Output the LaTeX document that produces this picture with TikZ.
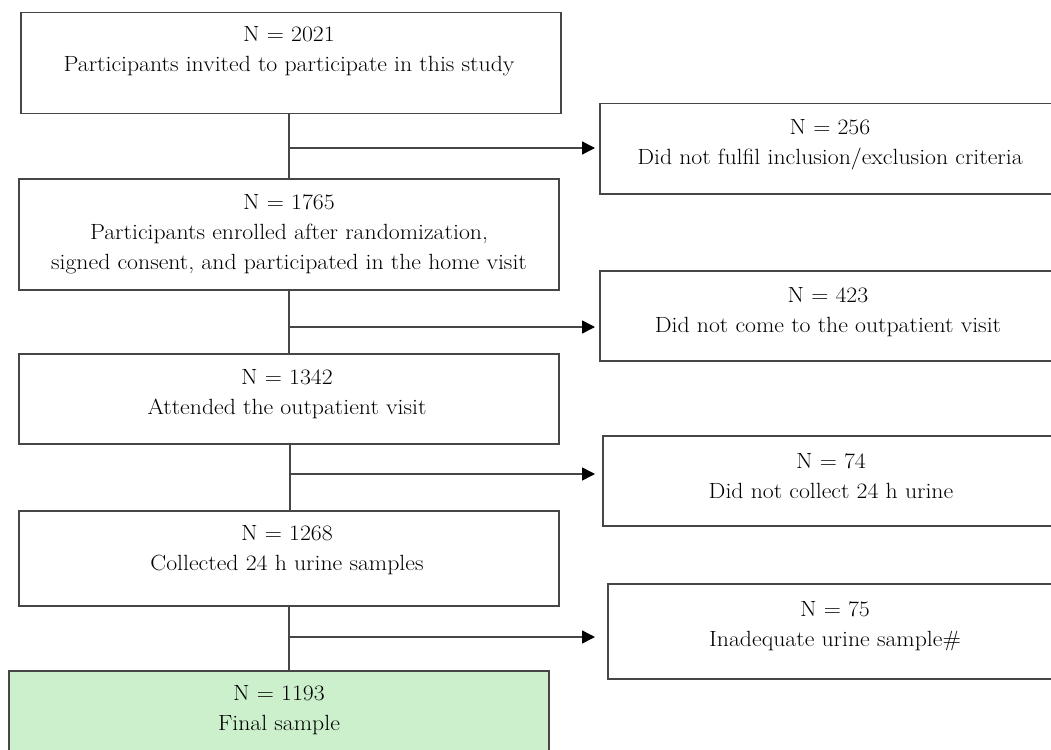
\documentclass[tikz,border=0pt]{standalone}
\usepackage{fontspec}
\setmainfont{Latin Modern Roman}[FakeStretch=1.08]
\usetikzlibrary{arrows.meta}
\definecolor{boxline}{RGB}{70,70,70}
\definecolor{finalfill}{RGB}{204,239,204}
\begin{document}
\begin{tikzpicture}[x=1pt,y=-1pt,
  box/.style={draw=boxline,line width=1.5pt,fill=white,inner sep=0pt,anchor=north west},
  finalbox/.style={box,fill=finalfill},
  txt/.style={align=center,font=\fontsize{22}{30}\selectfont,inner sep=0pt,text=black},
  link/.style={draw=boxline,line width=1.5pt},
  arr/.style={link,-{Triangle[length=13pt,width=13pt,color=black]}}]
\useasboundingbox (0,0) rectangle (1051,749);
\clip (0,0) rectangle (1051,749);
% left column boxes
\node[box,minimum width=540,minimum height=101] (b1) at (20,12) {};
\node[box,minimum width=540,minimum height=111] (b2) at (18,178) {};
\node[box,minimum width=540,minimum height=90]  (b3) at (18,353) {};
\node[box,minimum width=540,minimum height=95]  (b4) at (18,510) {};
\node[finalbox,minimum width=540,minimum height=100] (b5) at (8,670) {};
% right column boxes
\node[box,minimum width=465,minimum height=90] (r1) at (599,103) {};
\node[box,minimum width=465,minimum height=90] (r2) at (599,270) {};
\node[box,minimum width=465,minimum height=90] (r3) at (602,435) {};
\node[box,minimum width=465,minimum height=95] (r4) at (607,583) {};
% texts
\node[txt] (t1) at (289,51.5) {N = 2021\\Participants invited to participate in this study};
\node[txt] (t2) at (289,234) {N = 1765\\Participants enrolled after randomization,\\signed consent, and participated in the home visit};
\node[txt] (t3) at (287,394) {N = 1342\\Attended the outpatient visit};
\node[txt] (t4) at (287,550.5) {N = 1268\\Collected 24 h urine samples};
\node[txt] (t5) at (279,710.5) {N = 1193\\Final sample};
\node[txt] (s1) at (830,145) {N = 256\\Did not fulfil inclusion/exclusion criteria};
\node[txt] (s2) at (828,312) {N = 423\\Did not come to the outpatient visit};
\node[txt] (s3) at (831,476) {N = 74\\Did not collect 24 h urine};
\node[txt] (s4) at (835,626.5) {N = 75\\Inadequate urine sample\#};
% junctions and arrow ends
\coordinate (j1) at (289,148);
\coordinate (j2) at (289,327);
\coordinate (j3) at (290,474);
\coordinate (j4) at (289,637);
\coordinate (e1) at (595,148);
\coordinate (e2) at (595,327);
\coordinate (e3) at (595,474);
\coordinate (e4) at (595,637);
% connectors
\draw[link] (b1.south -| j1) -- (b2.north -| j1);
\draw[link] (b2.south -| j2) -- (b3.north -| j2);
\draw[link] (b3.south -| j3) -- (b4.north -| j3);
\draw[link] (b4.south -| j4) -- (b5.north -| j4);
\draw[arr] (j1) -- (e1);
\draw[arr] (j2) -- (e2);
\draw[arr] (j3) -- (e3);
\draw[arr] (j4) -- (e4);
\end{tikzpicture}
\end{document}
